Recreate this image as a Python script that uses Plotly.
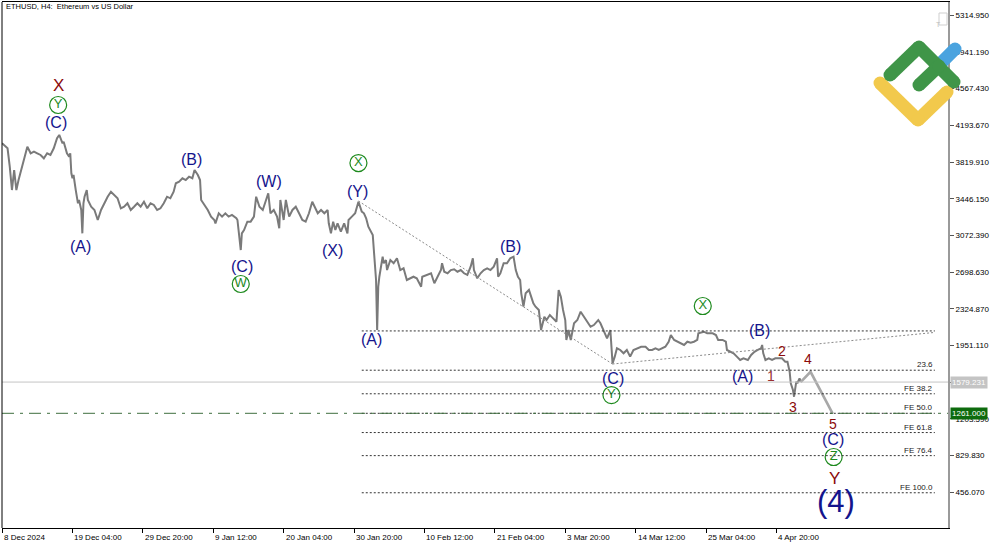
import pandas as pd
import plotly.graph_objects as go

# ---------------- data ----------------
t0 = pd.Timestamp("2024-12-08 12:00")
BAR = pd.Timedelta(hours=4)   # H4 bars

bar_index = [0, 5, 7, 9, 11, 13, 15, 19, 22, 23, 26, 29, 32, 35, 38, 41, 44, 47, 50, 52, 55, 56, 59, 61, 62, 63, 64, 65,
             67, 69, 70, 72, 73, 74, 75, 77, 78, 81, 84, 87, 90, 93, 96, 99, 102, 105, 108, 111, 114, 117, 120, 123,
             126, 129, 132, 135, 138, 141, 144, 147, 150, 153, 156, 158, 161, 164, 167, 170, 173, 175, 178, 180, 181,
             184, 187, 190, 193, 194, 197, 200, 203, 206, 209, 213, 214, 215, 217, 218, 220, 223, 226, 229, 231, 234,
             237, 240, 242, 244, 247, 250, 252, 253, 256, 258, 261, 264, 267, 270, 273, 276, 279, 282, 284, 287, 290,
             293, 296, 297, 299, 301, 303, 305, 308, 311, 314, 315, 318, 321, 324, 327, 329, 331, 333, 335, 337, 338,
             340, 341, 342, 343, 344, 346, 347, 349, 350, 353, 356, 359, 362, 365, 368, 371, 374, 377, 381, 382, 387,
             390, 393, 396, 399, 400, 402, 405, 408, 411, 414, 417, 420, 423, 426, 428, 429, 432, 435, 438, 441, 444,
             447, 450, 451, 453, 456, 459, 462, 465, 467, 469, 471, 472, 474, 476, 479, 481, 483, 485, 488, 490, 493,
             495, 498, 501, 504, 506, 508, 510, 512, 513, 515, 517, 520, 523, 526, 529, 532, 535, 538, 542, 544, 547,
             550, 553, 554, 555, 557, 559, 562, 565, 568, 571, 574, 577, 581, 585, 588, 591, 594, 597, 600, 603, 606,
             608, 611, 614, 617, 620, 623, 626, 629, 632, 633, 638, 641, 646, 649, 651, 655, 658, 659, 662, 665, 668,
             671, 674, 678, 681, 684, 687, 690, 691, 692, 694, 697, 700, 703, 706, 709, 712, 714, 716, 717, 719, 720,
             722, 723, 725, 726]
close = [4011, 3960, 3773, 3535, 3739, 3535, 3637, 3807, 3909, 3977, 3909, 3926, 3909, 3892, 3858, 3909, 3892, 3960,
         4062, 4096, 4011, 4027, 3909, 3875, 3909, 3706, 3655, 3688, 3535, 3400, 3434, 3332, 3094, 3400, 3467, 3535,
         3434, 3365, 3332, 3230, 3332, 3400, 3467, 3518, 3485, 3451, 3349, 3365, 3400, 3332, 3365, 3400, 3365, 3416,
         3349, 3400, 3383, 3332, 3349, 3400, 3467, 3451, 3518, 3604, 3620, 3655, 3637, 3671, 3655, 3739, 3688, 3637,
         3434, 3383, 3332, 3264, 3230, 3196, 3298, 3264, 3298, 3264, 3281, 3247, 3230, 3128, 2924, 3094, 3128, 3213,
         3213, 3264, 3467, 3365, 3332, 3434, 3502, 3298, 3332, 3264, 3145, 3434, 3230, 3434, 3264, 3332, 3365, 3298,
         3230, 3213, 3298, 3416, 3365, 3298, 3332, 3298, 3332, 3196, 3094, 3213, 3128, 3196, 3111, 3196, 3094, 3230,
         3264, 3298, 3416, 3315, 3298, 3247, 3162, 3111, 3077, 2924, 2619, 2109, 2550, 2652, 2720, 2856, 2789, 2822,
         2720, 2822, 2789, 2840, 2720, 2738, 2619, 2636, 2652, 2636, 2550, 2652, 2670, 2687, 2585, 2652, 2720, 2789,
         2703, 2687, 2720, 2728, 2703, 2720, 2687, 2670, 2754, 2840, 2720, 2636, 2687, 2720, 2738, 2720, 2754, 2840,
         2652, 2687, 2789, 2789, 2840, 2856, 2720, 2652, 2619, 2483, 2347, 2483, 2517, 2449, 2381, 2347, 2313, 2109,
         2245, 2211, 2262, 2228, 2194, 2517, 2449, 2313, 2211, 2008, 2109, 2008, 2178, 2211, 2296, 2245, 2194, 2143,
         2160, 2211, 2178, 2109, 2025, 2109, 1906, 1770, 1838, 1923, 1906, 1872, 1906, 1838, 1906, 1923, 1939, 1939,
         1906, 1906, 1923, 1906, 1923, 1939, 1990, 2058, 2008, 1990, 1974, 1957, 1990, 1980, 1990, 2008, 2076, 2092,
         2076, 2076, 2058, 2008, 2008, 1990, 1906, 1888, 1872, 1838, 1804, 1821, 1804, 1855, 1888, 1906, 1923, 1957,
         1872, 1804, 1821, 1804, 1821, 1821, 1821, 1787, 1787, 1685, 1567, 1498, 1430, 1583, 1567, 1617, 1579.231]

# projected wave 4 -> 5
proj_bar = [726, 735, 755]
proj_price = [1579.231, 1684, 1261]

# x tick labels
xtick_bars = [0, 64, 128, 192, 256, 320, 384, 448, 512, 576, 640, 704]
xtick_text = ["8 Dec 2024", "19 Dec 04:00", "29 Dec 20:00", "9 Jan 12:00", "20 Jan 04:00", "30 Jan 20:00",
              "10 Feb 12:00", "21 Feb 04:00", "3 Mar 20:00", "14 Mar 12:00", "25 Mar 04:00", "4 Apr 20:00"]

# y tick labels
ytick_vals = [456.07, 829.83, 1203.59, 1577.35, 1951.11, 2324.87, 2698.63, 3072.39, 3446.15, 3819.91,
              4193.67, 4567.43, 4941.19, 5314.95]
ytick_text = ["456.070", "829.830", "1203.590", "", "1951.110", "2324.870", "2698.630", "3072.390", "3446.150",
              "3819.910", "4193.670", "4567.430", "4941.190", "5314.950"]

# Fibonacci expansion levels
fib_levels = [1700, 1460, 1261, 1065, 830, 452]
fib_text = ["23.6", "FE 38.2", "FE 50.0", "FE 61.8", "FE 76.4", "FE 100.0"]
fib_start_bar, fib_end_bar = 327, 848
wave_a_level = 2100
current_price = 1579.231
target_price = 1261.000

# trend lines (bar, price)
trend1 = [(324, 3423), (555, 1763)]
trend2 = [(555, 1763), (848, 2085)]

# wave labels: (text, bar, price, kind)
wave_labels = [
    ("X", 51, 4595, "red"), ("Y", 51, 4401, "circ"), ("(C)", 49, 4218, "navy"),
    ("(A)", 71, 2955, "navy"), ("(B)", 172, 3851, "navy"), ("(W)", 243, 3627, "navy"),
    ("(C)", 218, 2761, "navy"), ("W", 217, 2578, "circ"), ("(X)", 300, 2924, "navy"),
    ("X", 324, 3810, "circ"), ("(Y)", 323, 3525, "navy"), ("(A)", 336, 2008, "navy"),
    ("(B)", 462, 2955, "navy"), ("X", 637, 2354, "circ"), ("(C)", 555, 1620, "navy"),
    ("Y", 554, 1447, "circ"), ("(A)", 673, 1631, "navy"), ("(B)", 689, 2109, "navy"),
    ("1", 699, 1641, "num1"), ("2", 709, 1896, "num"), ("3", 719, 1325, "num"),
    ("4", 733, 1814, "num"), ("5", 755, 1152, "num"), ("(C)", 755, 999, "navy"),
    ("Z", 756, 816, "circ"), ("Y", 757, 600, "red"), ("(4)", 758, 368, "big"),
]

# ---------------- figure ----------------
def d(b):
    return t0 + b * BAR

FONT = "Liberation Sans"
NAVY = "#14148c"
RED = "#8b0a0a"
GREEN = "#1e8a1e"

fig = go.Figure()

fig.add_trace(go.Scatter(x=[d(b) for b in bar_index], y=close, mode="lines",
                         line=dict(color="#7a7a7a", width=2), hoverinfo="skip"))
fig.add_trace(go.Scatter(x=[d(b) for b in proj_bar], y=proj_price, mode="lines",
                         line=dict(color="#a8a8a8", width=2.6), hoverinfo="skip"))

circ = [w for w in wave_labels if w[3] == "circ"]
fig.add_trace(go.Scatter(
    x=[d(w[1]) for w in circ], y=[w[2] for w in circ], mode="markers+text",
    text=[w[0] for w in circ], textposition="middle center",
    marker=dict(symbol="circle-open", size=17, color=GREEN, line=dict(width=1.2)),
    textfont=dict(family=FONT, size=13, color=GREEN), hoverinfo="skip"))

styles = {
    "navy": dict(family=FONT, size=16, color=NAVY),
    "red": dict(family=FONT, size=17, color=RED),
    "num": dict(family=FONT, size=14, color=RED),
    "num1": dict(family=FONT, size=14, color="#9a3030"),
    "big": dict(family=FONT, size=31, color=NAVY),
}
annotations = []
for txt, b, p, kind in wave_labels:
    if kind == "circ":
        continue
    annotations.append(dict(x=d(b), y=p, xref="x", yref="y", text=txt, showarrow=False,
                            font=styles[kind], xanchor="center", yanchor="middle"))

shapes = []
# Fibonacci lines and labels
for lvl, txt in zip(fib_levels, fib_text):
    shapes.append(dict(type="line", xref="x", yref="y", x0=d(fib_start_bar), x1=d(fib_end_bar), y0=lvl, y1=lvl,
                       line=dict(color="#333333", width=1, dash="2px,2px")))
    annotations.append(dict(x=d(fib_end_bar), y=lvl, xref="x", yref="y", text=txt, showarrow=False,
                            xanchor="right", yanchor="bottom", yshift=-1,
                            font=dict(family=FONT, size=8, color="#222222")))
# wave (A) level line
shapes.append(dict(type="line", xref="x", yref="y", x0=d(fib_start_bar), x1=d(fib_end_bar),
                   y0=wave_a_level, y1=wave_a_level, line=dict(color="#333333", width=1, dash="2px,2px")))
# trend lines
for (b0, p0), (b1, p1) in (trend1, trend2):
    shapes.append(dict(type="line", xref="x", yref="y", x0=d(b0), x1=d(b1), y0=p0, y1=p1,
                       line=dict(color="#8a8a8a", width=1, dash="2px,2px")))
# current price line and target line (full width)
shapes.append(dict(type="line", xref="paper", yref="y", x0=0, x1=1, y0=current_price, y1=current_price,
                   line=dict(color="#c4c4c4", width=1)))
shapes.append(dict(type="line", xref="paper", yref="y", x0=0, x1=1, y0=target_price, y1=target_price,
                   line=dict(color="#3f6f3f", width=1, dash="12px,6px,3px,6px")))

# price boxes on the axis
annotations.append(dict(x=1.002, xref="paper", y=current_price, yref="y", text="1579.231", showarrow=False,
                        xanchor="left", yanchor="middle", bgcolor="#c4c4c4", borderpad=1,
                        font=dict(family=FONT, size=8, color="white")))
annotations.append(dict(x=1.002, xref="paper", y=target_price, yref="y", text="1261.000", showarrow=False,
                        xanchor="left", yanchor="middle", bgcolor="#0d6b0d", borderpad=1,
                        font=dict(family=FONT, size=8, color="white")))

# x tick labels, left aligned at the tick like the terminal
for b, txt in zip(xtick_bars, xtick_text):
    annotations.append(dict(x=d(b), xref="x", y=0, yref="paper", yshift=-3, text=txt, showarrow=False,
                            xanchor="left", yanchor="top", font=dict(family=FONT, size=8, color="#000000")))

# title
annotations.append(dict(x=0.002, xref="paper", y=0.991, yref="paper", text="ETHUSD, H4:  Ethereum vs US Dollar",
                        showarrow=False, xanchor="left", yanchor="middle",
                        font=dict(family=FONT, size=7.5, color="#000000")))

# ---- decorations in pixel space (logo, border, icon) ----
PL, PR, PT, PB = 2, 948, 2, 528
def px(x):
    return (x - PL) / (PR - PL)
def py(y):
    return (PB - y) / (PB - PT)

shapes.append(dict(type="line", xref="paper", yref="paper", x0=0, x1=0, y0=0, y1=1,
                   line=dict(color="#000000", width=1)))

def stroke(points, color, w=13):
    for (xa, ya), (xb, yb) in zip(points[:-1], points[1:]):
        shapes.append(dict(type="line", xref="paper", yref="paper", x0=px(xa), y0=py(ya), x1=px(xb), y1=py(yb),
                           line=dict(color=color, width=w)))
    r = w / 2
    for (xa, ya) in points:
        shapes.append(dict(type="circle", xref="paper", yref="paper", x0=px(xa - r), x1=px(xa + r),
                           y0=py(ya + r), y1=py(ya - r), fillcolor=color, line=dict(width=0)))

stroke([(880, 83), (918, 120), (947, 92)], "#f2c94c")
stroke([(940, 64), (955, 49)], "#4aa3df")
stroke([(890, 75), (919, 47), (954, 82)], "#3f9548")
stroke([(919, 85), (939, 66)], "#3f9548")

# small icon at top right
shapes.append(dict(type="rect", xref="paper", yref="paper", x0=px(939), x1=px(947), y0=py(25), y1=py(13),
                   line=dict(color="#cfcfcf", width=1), fillcolor="white"))
annotations.append(dict(x=px(943), y=py(19), xref="paper", yref="paper", text="T", showarrow=False,
                        font=dict(family=FONT, size=7, color="#bdbdbd")))

fig.update_layout(
    width=1000, height=545,
    margin=dict(l=PL, r=1000 - PR, t=PT, b=545 - PB),
    paper_bgcolor="white", plot_bgcolor="white",
    showlegend=False,
    xaxis=dict(type="date", range=[d(-0.05), d(859.95)], tickvals=[d(b) for b in xtick_bars],
               showticklabels=False, ticks="outside", ticklen=4, tickcolor="#000000",
               showgrid=False, zeroline=False, showline=True, linecolor="#000000", linewidth=1, mirror=True),
    yaxis=dict(side="right", range=[93, 5450], tickvals=ytick_vals, ticktext=ytick_text,
               ticks="outside", ticklen=4, tickcolor="#555555",
               tickfont=dict(family=FONT, size=8, color="#000000"),
               showgrid=False, zeroline=False, showline=True, linecolor="#9a9a9a", linewidth=2),
    annotations=annotations,
    shapes=shapes,
)

fig.write_html("out.html", config={"displayModeBar": False},
               post_script="document.body.style.margin='0px';document.body.style.overflow='hidden';")
